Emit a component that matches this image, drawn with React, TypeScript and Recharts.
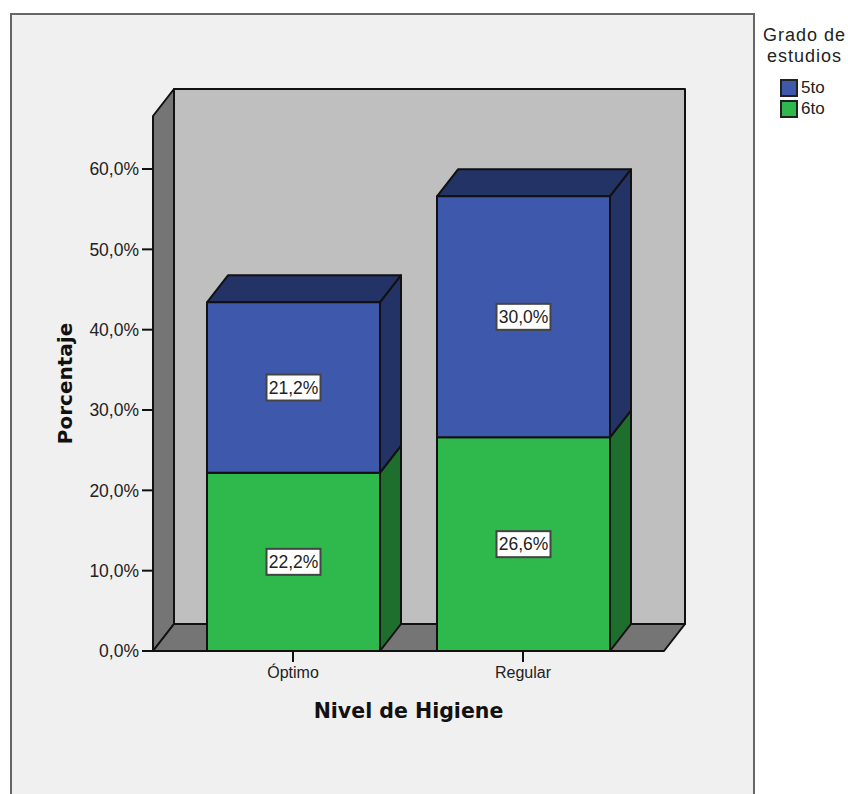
import { BarChart, Bar, XAxis, YAxis, Legend, LabelList, ReferenceArea } from 'recharts'

const categories = ['Óptimo', 'Regular']
const grado5to = [21.2, 30.0]
const grado6to = [22.2, 26.6]
const yTicks = [0, 10, 20, 30, 40, 50, 60]

const rows = categories.map((nivel, i) => ({ nivel, '5to': grado5to[i], '6to': grado6to[i] }))

// depth of the fake 3D box
const DX = 21
const DY = 27
const PAD_LEFT = 25
const PAD_RIGHT = 26
const LINE = '#111'

const pct = (v: number) => `${v.toFixed(1).replace('.', ',')}%`

function Walls({ x, y, width, height }: any) {
  const left = x - PAD_LEFT
  const right = x + width + PAD_RIGHT
  const bottom = y + height
  return (
    <g stroke={LINE} strokeWidth={2} strokeLinejoin="round">
      <rect x={left + DX} y={y - DY} width={right - left} height={height} fill="#bfbfbf" />
      <polygon
        points={`${left},${y} ${left + DX},${y - DY} ${left + DX},${bottom - DY} ${left},${bottom}`}
        fill="#757575"
      />
      <polygon
        points={`${left},${bottom} ${left + DX},${bottom - DY} ${right + DX},${bottom - DY} ${right},${bottom}`}
        fill="#757575"
      />
    </g>
  )
}

function Box3D({ x, y, width, height, fill, shade }: any) {
  return (
    <g stroke={LINE} strokeWidth={2} strokeLinejoin="round">
      <polygon
        points={`${x},${y} ${x + DX},${y - DY} ${x + width + DX},${y - DY} ${x + width},${y}`}
        fill={shade}
      />
      <polygon
        points={`${x + width},${y} ${x + width + DX},${y - DY} ${x + width + DX},${y + height - DY} ${x + width},${y + height}`}
        fill={shade}
      />
      <rect x={x} y={y} width={width} height={height} fill={fill} />
    </g>
  )
}

function ValueBox({ x, y, width, height, value }: any) {
  const cx = x + width / 2
  const cy = y + height / 2
  return (
    <g>
      <rect x={cx - 27} y={cy - 13} width={54} height={26} fill="#fff" stroke="#444" strokeWidth={2} />
      <text x={cx} y={cy + 6} textAnchor="middle" fontFamily="Liberation Sans" fontSize={17.5} fill="#222">
        {pct(value)}
      </text>
    </g>
  )
}

function LegendBox({ payload }: any) {
  return (
    <div style={{ fontFamily: 'Liberation Sans', color: '#222', width: 87 }}>
      <div style={{ fontSize: 18, lineHeight: '21px', letterSpacing: 1, textAlign: 'center' }}>
        Grado de
        <br />
        estudios
      </div>
      <div style={{ marginTop: 10, marginLeft: 19 }}>
        {payload.map((p: any) => (
          <div key={p.value} style={{ display: 'flex', alignItems: 'center', height: 21.5, fontSize: 17 }}>
            <span
              style={{
                width: 14,
                height: 14,
                background: p.color,
                border: '2px solid #222',
                marginRight: 3,
                display: 'inline-block',
              }}
            />
            {p.value}
          </div>
        ))}
      </div>
    </div>
  )
}

export default function App() {
  return (
    <div style={{ position: 'absolute', left: 0, top: 0, width: 848, height: 794, overflow: 'hidden', background: '#fff' }}>
      <div
        style={{
          position: 'absolute',
          left: 10,
          top: 13,
          width: 741,
          height: 800,
          background: '#f0f0f0',
          border: '2px solid #666',
        }}
      />
      <BarChart
        width={848}
        height={794}
        data={rows}
        margin={{ top: 116, right: 184, bottom: 0, left: 0 }}
        style={{ position: 'absolute', left: 0, top: 0 }}
      >
        <ReferenceArea y1={0} y2={66.6} shape={Walls} ifOverflow="visible" />
        <XAxis
          dataKey="nivel"
          height={143}
          padding={{ left: PAD_LEFT, right: PAD_RIGHT }}
          tickSize={11}
          tickMargin={5}
          stroke={LINE}
          strokeWidth={2}
          tick={{ fill: '#222', fontFamily: 'Liberation Sans', fontSize: 16 }}
          label={{
            value: 'Nivel de Higiene',
            position: 'insideTop',
            offset: 52,
            fill: '#111',
            fontFamily: 'DejaVu Sans',
            fontWeight: 700,
            fontSize: 20.5,
          }}
        />
        <YAxis
          width={153}
          domain={[0, 66.6]}
          ticks={yTicks}
          tickFormatter={pct}
          tickSize={11}
          tickMargin={3}
          stroke={LINE}
          strokeWidth={2}
          tick={{ fill: '#222', fontFamily: 'Liberation Sans', fontSize: 17.5 }}
          label={{
            value: 'Porcentaje',
            angle: -90,
            position: 'insideLeft',
            offset: 65,
            fill: '#111',
            fontFamily: 'DejaVu Sans',
            fontWeight: 700,
            fontSize: 20,
            style: { textAnchor: 'middle' },
          }}
        />
        <Legend
          layout="vertical"
          align="center"
          verticalAlign="middle"
          content={LegendBox}
          wrapperStyle={{ position: 'absolute', left: 761, top: 25, width: 87 }}
        />
        <Bar
          dataKey="6to"
          stackId="grado"
          barSize={173}
          fill="#2fb84c"
          isAnimationActive={false}
          shape={(p: any) => <Box3D {...p} shade="#1e6e2e" />}
        >
          <LabelList dataKey="6to" content={ValueBox} />
        </Bar>
        <Bar
          dataKey="5to"
          stackId="grado"
          barSize={173}
          fill="#3e58ac"
          isAnimationActive={false}
          shape={(p: any) => <Box3D {...p} shade="#243366" />}
        >
          <LabelList dataKey="5to" content={ValueBox} />
        </Bar>
      </BarChart>
    </div>
  )
}
